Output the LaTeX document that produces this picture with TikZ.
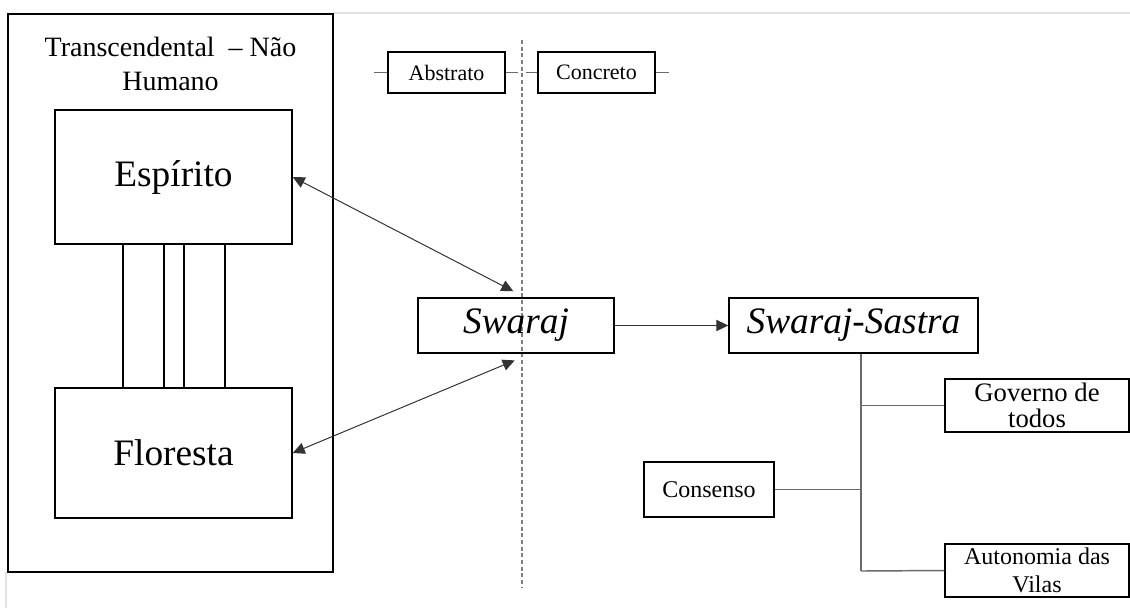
\documentclass[tikz,border=0pt]{standalone}
\usepackage{fontspec}
\setmainfont{Liberation Serif}
\usetikzlibrary{arrows.meta,positioning}
\definecolor{ink}{HTML}{000000}
\definecolor{ln}{HTML}{333333}
\definecolor{br}{HTML}{6A6A6A}
\definecolor{dv}{HTML}{7F7F7F}
\definecolor{pg}{HTML}{E2E2E2}
\tikzset{
  box/.style={draw=ink,line width=1.1pt,inner sep=0pt,align=center,text=ink},
  bbox/.style={box,minimum width=177.75pt,font=\bigfnt},
  cbox/.style={box,minimum height=41.25pt,font=\itfnt},
  sbox/.style={box,minimum width=87.75pt,minimum height=30.75pt,font=\smallfnt},
  rbox/.style={box,minimum width=138pt,minimum height=39.75pt},
  arr/.style={-{Triangle[length=9pt,width=8.5pt]},line width=0.75pt,ln},
  biarr/.style={{Triangle[length=9pt,width=8.5pt]}-{Triangle[length=9pt,width=8.5pt]},line width=0.75pt,ln},
  branch/.style={line width=1.1pt,br},
  stub/.style={line width=1.1pt,br},
  divider/.style={line width=1.2pt,dv,dash pattern=on 3pt off 2pt},
  pgline/.style={line width=1.5pt,pg}
}
\newcommand{\bigfnt}{\fontsize{28pt}{32pt}\selectfont}
\newcommand{\itfnt}{\fontsize{28pt}{32pt}\selectfont\itshape}
\newcommand{\smallfnt}{\fontsize{16.5pt}{19pt}\selectfont}

\begin{document}
\begin{tikzpicture}[x=0.75pt,y=-0.75pt]
\useasboundingbox (0,0) rectangle (1130,608);
% page edges
\draw[pgline] (333,13) -- (1130,13);
\draw[pgline] (6,572) -- (6,608);
% ===================== left: transcendental =====================
\node[box,minimum width=243.75pt,minimum height=418.5pt] (realm) at (170.5,293) {};
\node[align=center,inner sep=0pt,anchor=north,font=\fontsize{21pt}{25.5pt}\selectfont] (realmtit) at (170.5,37) {Transcendental\ \ – Não\\Humano};
\node[bbox,minimum height=100.5pt] (esp) at (173.5,177) {Espírito};
\node[bbox,minimum height=97.5pt] (flo) at (173.5,453) {Floresta};
\foreach \x in {123,164,184,225}{\draw[ink,line width=1.1pt] (\x,0 |- esp.south) -- (\x,0 |- flo.north);}
% ===================== divider =====================
\coordinate (divtop) at (522,40);
\coordinate (divbot) at (522,588);
\draw[divider] (divtop) -- (divbot);
\node[sbox] (abstr) at (446.5,72.5) {Abstrato};
\node[sbox] (concr) at (596.5,72.5) {Concreto};
\draw[stub] (abstr.west) -- ++(-13,0); \draw[stub] (abstr.east) -- ++(12,0);
\draw[stub] (concr.west) -- ++(-11,0); \draw[stub] (concr.east) -- ++(13,0);
% ===================== swaraj =====================
\node[cbox,minimum width=147pt] (swaraj) at (516,325.5) {Swaraj};
\node[cbox,minimum width=186.75pt] (sastra) at (853.5,325.5) {Swaraj-Sastra};
\draw[arr] (swaraj) -- (sastra);
\draw[biarr] (esp.east) -- ([xshift=-2pt,yshift=4.5pt]swaraj.north);
\draw[biarr] (flo.east) -- ([xshift=-1pt,yshift=-5pt]swaraj.south);
% ===================== branches =====================
\node[box,minimum width=97.5pt,minimum height=41.25pt,font=\fontsize{18pt}{21pt}\selectfont] (cons) at (709,489.5) {Consenso};
\node[rbox,font=\fontsize{20pt}{20pt}\selectfont] (gov) at (1037,405.5) {Governo de\\todos};
\node[rbox,font=\fontsize{18pt}{21.5pt}\selectfont] (auto) at (1037,570.5) {Autonomia das\\Vilas};
\coordinate (trunk) at (861,571);
\draw[branch] (sastra.south -| trunk) -- (trunk);
\draw[branch] (trunk |- gov.west) -- (gov.west);
\draw[branch] (trunk |- cons.east) -- (cons.east);
\draw[branch] (trunk) -- (auto.west);
\end{tikzpicture}
\end{document}
